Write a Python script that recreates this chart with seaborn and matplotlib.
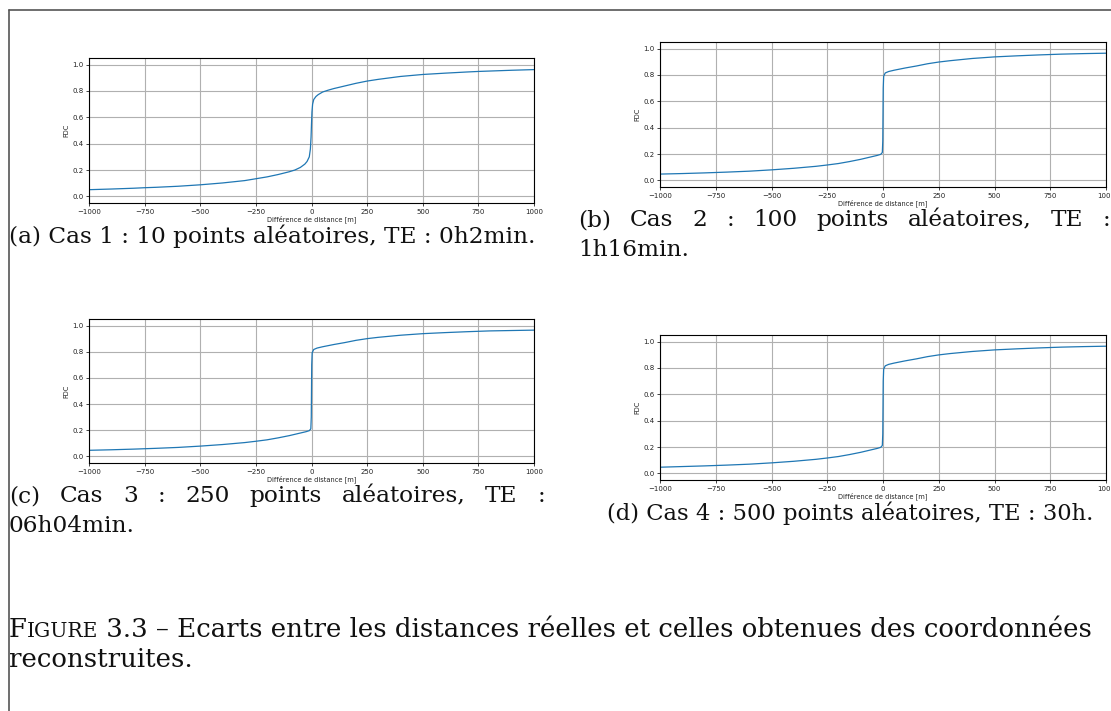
import numpy as np
import pandas as pd
import matplotlib
matplotlib.use("Agg")
import matplotlib.pyplot as plt
from matplotlib.lines import Line2D
import seaborn as sns

# valeurs (FDC des ecarts de distance)
x_a = [-1000, -900, -800, -750, -700, -600, -500, -400, -300, -250, -200, -150, -100, -75, -50, -30, -20, -10, -5, -2,
       0, 2, 5, 10, 20, 30, 50, 75, 100, 150, 200, 250, 300, 400, 500, 600, 700, 750, 800, 900, 1000]
fdc_a = [0.051, 0.056, 0.062, 0.066, 0.069, 0.077, 0.088, 0.102, 0.120, 0.134, 0.148, 0.166, 0.187, 0.200, 0.220, 0.245, 0.265, 0.300, 0.360, 0.450,
         0.550, 0.640, 0.700, 0.735, 0.758, 0.772, 0.792, 0.806, 0.818, 0.838, 0.858, 0.875, 0.888, 0.910, 0.925, 0.935, 0.944, 0.948, 0.951, 0.957, 0.962]

x_bcd = [-1000, -900, -800, -750, -700, -600, -500, -400, -300, -250, -200, -150, -100, -75, -50, -25, -10, -3, -1,
         0, 1, 3, 10, 25, 50, 100, 150, 200, 250, 300, 400, 500, 600, 700, 750, 800, 900, 1000]
fdc_b = [0.048, 0.052, 0.057, 0.060, 0.063, 0.070, 0.080, 0.092, 0.107, 0.117, 0.128, 0.143, 0.160, 0.170, 0.180, 0.190, 0.198, 0.212, 0.300,
         0.500, 0.700, 0.790, 0.815, 0.826, 0.836, 0.853, 0.868, 0.885, 0.898, 0.908, 0.925, 0.937, 0.945, 0.952, 0.955, 0.958, 0.962, 0.965]
fdc_c = [0.047, 0.051, 0.056, 0.059, 0.062, 0.069, 0.079, 0.091, 0.106, 0.116, 0.127, 0.142, 0.159, 0.169, 0.179, 0.189, 0.197, 0.211, 0.300,
         0.500, 0.700, 0.792, 0.817, 0.828, 0.838, 0.855, 0.870, 0.887, 0.900, 0.910, 0.926, 0.938, 0.946, 0.953, 0.956, 0.959, 0.962, 0.965]
fdc_d = [0.047, 0.052, 0.057, 0.060, 0.063, 0.070, 0.080, 0.092, 0.107, 0.117, 0.128, 0.143, 0.160, 0.170, 0.180, 0.190, 0.198, 0.212, 0.300,
         0.500, 0.700, 0.791, 0.816, 0.827, 0.837, 0.854, 0.869, 0.886, 0.899, 0.909, 0.925, 0.937, 0.945, 0.952, 0.955, 0.958, 0.962, 0.965]

xticks = [-1000, -750, -500, -250, 0, 250, 500, 750, 1000]
yticks = [0.0, 0.2, 0.4, 0.6, 0.8, 1.0]

W, H = 1111, 711
sns.set_style("ticks", {"axes.grid": True, "grid.color": "#b0b0b0", "axes.edgecolor": "black"})
fig = plt.figure(figsize=(W / 100, H / 100), dpi=100)

def fx(x):
    return x / W

def fy(y):
    return 1 - y / H

def subplot(left, top, right, bottom, xs, ys):
    ax = fig.add_axes([fx(left), fy(bottom), fx(right) - fx(left), fy(top) - fy(bottom)])
    df = pd.DataFrame({"x": xs, "y": ys})
    sns.lineplot(data=df, x="x", y="y", ax=ax, color="#1f77b4", linewidth=0.9)
    ax.set_xlim(-1000, 1000)
    ax.set_ylim(-0.05, 1.05)
    ax.set_xticks(xticks)
    ax.set_yticks(yticks)
    ax.set_yticklabels([f"{v:.1f}" for v in yticks])
    ax.tick_params(labelsize=5.0, length=2.5, width=0.6, pad=1.5, colors="#222222")
    ax.set_xlabel("Différence de distance [m]", fontsize=4.8, labelpad=0.5, color="#222222")
    ax.set_ylabel("FDC", fontsize=4.8, labelpad=2, color="#222222")
    ax.grid(True, color="#b0b0b0", linewidth=0.8)
    for s in ax.spines.values():
        s.set_linewidth(0.8)
    return ax

subplot(89, 58, 534, 203, x_a, fdc_a)
subplot(660, 42, 1106, 187, x_bcd, fdc_b)
subplot(89, 319, 534, 463, x_bcd, fdc_c)
subplot(660, 335, 1106, 480, x_bcd, fdc_d)

# cadre de la page
fig.add_artist(Line2D([fx(9), fx(9)], [fy(10), fy(711)], color="#555555", linewidth=1.2))
fig.add_artist(Line2D([fx(9), fx(1111)], [fy(10), fy(10)], color="#555555", linewidth=1.2))

serif = "DejaVu Serif"
renderer = fig.canvas.get_renderer()

def width_of(t):
    return t.get_window_extent(renderer=renderer).width

def line(text, x0, y, size):
    return fig.text(fx(x0), fy(y), text, fontsize=size, family=serif, va="baseline", ha="left", color="#111111")

def fitted_size(text, target):
    t = line(text, 0, 0, 20)
    w = width_of(t)
    t.remove()
    return 20 * target / w

def justified(words, x0, x1, y, size):
    items = [line(w, x0, y, size) for w in words]
    widths = [width_of(t) for t in items]
    gap = (x1 - x0 - sum(widths)) / (len(words) - 1)
    x = x0
    for t, w in zip(items, widths):
        t.set_x(fx(x))
        x += w + gap

cap_a = "(a) Cas 1 : 10 points aléatoires, TE : 0h2min."
fs = fitted_size(cap_a, 528)
line(cap_a, 9, 243, fs)
justified("(b) Cas 2 : 100 points aléatoires, TE :".split(), 578, 1110, 226, fs)
line("1h16min.", 578, 256, fs)
justified("(c) Cas 3 : 250 points aléatoires, TE :".split(), 9, 545, 502, fs)
line("06h04min.", 9, 532, fs)
cap_d = "(d) Cas 4 : 500 points aléatoires, TE : 30h."
line(cap_d, 607, 520, min(fs, fitted_size(cap_d, 486)))

# legende generale, petites capitales pour "Figure"
rest = " 3.3 – Ecarts entre les distances réelles et celles obtenues des coordonnées"
cap = fitted_size("FIGURE" + rest, 1100)
t1 = line("F", 9, 637, cap)
w1 = width_of(t1)
t2 = line("IGURE", 9 + w1, 637, cap * 0.78)
w2 = width_of(t2)
line(rest, 9 + w1 + w2, 637, cap)
line("reconstruites.", 9, 667, cap)

fig.savefig("out.png", dpi=100)
